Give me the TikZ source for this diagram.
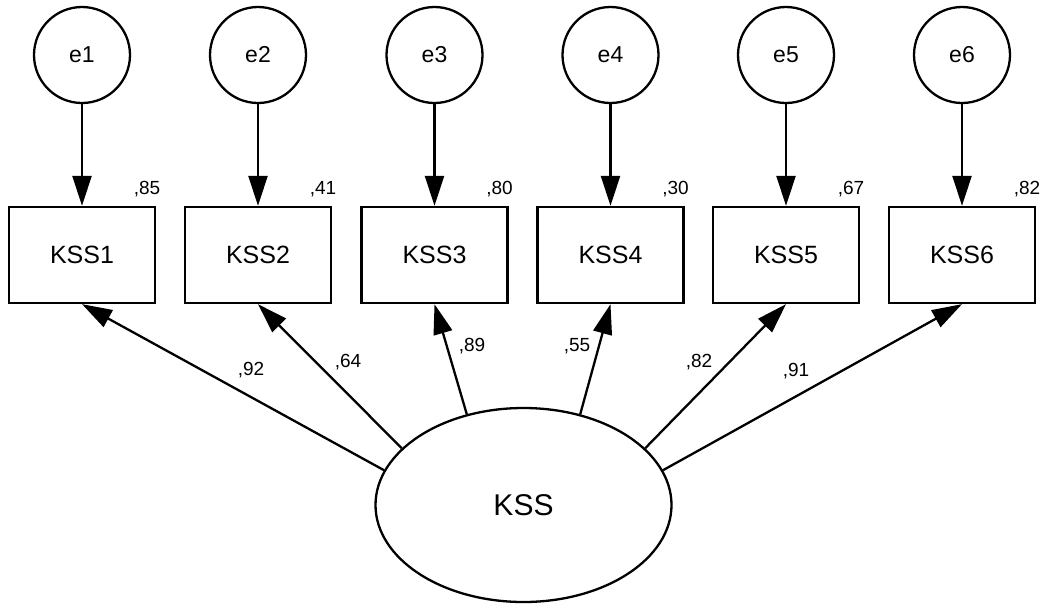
\documentclass[tikz,border=0pt]{standalone}
\usepackage{fontspec}
\setmainfont{Liberation Sans}
\usetikzlibrary{arrows.meta,shapes.geometric}

\begin{document}
\begin{tikzpicture}[x=1pt,y=-1pt,
  err/.style={circle,draw,line width=2.3pt,minimum size=96pt,inner sep=0pt,font=\fontsize{23}{26}\selectfont},
  obs/.style={rectangle,draw,line width=2.3pt,minimum width=146pt,minimum height=96pt,inner sep=0pt,font=\fontsize{25}{28}\selectfont},
  lat/.style={ellipse,draw,line width=2.3pt,minimum width=296pt,minimum height=194pt,inner sep=0pt,font=\fontsize{30}{34}\selectfont},
  path/.style={line width=2.3pt,-{Triangle[length=30pt,width=19pt]}},
  coef/.style={font=\fontsize{19}{22}\selectfont,inner sep=0pt}
]
\useasboundingbox (0,0) rectangle (1046,603);

% indicators, their error terms and squared multiple correlations
\foreach \i/\x/\r in {1/82/{,85}, 2/258/{,41}, 3/434.5/{,80}, 4/610.5/{,30}, 5/786/{,67}, 6/962/{,82}}{
  \node[err] (e\i) at (\x,55) {e\i};
  \node[obs] (KSS\i) at (\x,255) {KSS\i};
  \node[coef] (r\i) at (\x+65,189) {\r};
  \draw[path] (e\i) -- (KSS\i);
}

% latent factor
\node[lat] (KSS) at (523.5,505) {KSS};

% loadings
\draw[path] (KSS.166) -- (KSS1.south);
\draw[path] (KSS.155) -- (KSS2.south);
\draw[path] (KSS.122) -- (KSS3.south);
\draw[path] (KSS.58) -- (KSS4.south);
\draw[path] (KSS.25) -- (KSS5.south);
\draw[path] (KSS.14) -- (KSS6.south);

\node[coef] (l1) at (251,370) {,92};
\node[coef] (l2) at (348,362) {,64};
\node[coef] (l3) at (472,346) {,89};
\node[coef] (l4) at (577,346) {,55};
\node[coef] (l5) at (699,362) {,82};
\node[coef] (l6) at (796,371) {,91};
\end{tikzpicture}
\end{document}
